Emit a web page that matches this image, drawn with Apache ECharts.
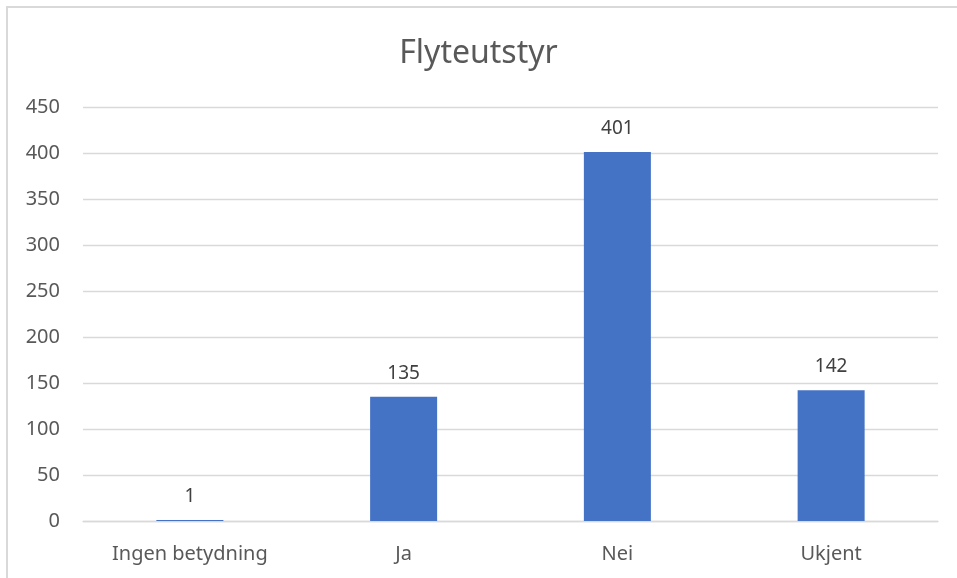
<!DOCTYPE html>
<html>
<head>
<meta charset="utf-8">
<script src="https://cdn.jsdelivr.net/npm/echarts@6/dist/echarts.min.js"></script>
<style>
  html, body { margin: 0; padding: 0; background: #fff; }
  #chart { width: 957px; height: 578px; }
</style>
</head>
<body>
<div id="chart"></div>
<script>
// Flyteutstyr: antall per kategori
const categories = ['Ingen betydning', 'Ja', 'Nei', 'Ukjent'];
const counts = [1, 135, 401, 142];
const yTicks = [0, 50, 100, 150, 200, 250, 300, 350, 400, 450];

const font = '"Noto Sans", "Open Sans", sans-serif';
const textColor = '#595959';
const lineColor = '#d9d9d9';

const chart = echarts.init(document.getElementById('chart'), null, { renderer: 'canvas' });

chart.setOption({
  animation: false,
  backgroundColor: '#ffffff',
  title: {
    text: 'Flyteutstyr',
    left: 'center',
    top: 33,
    textStyle: { fontFamily: font, fontSize: 32, fontWeight: 'normal', color: textColor }
  },
  graphic: [{
    type: 'rect',
    shape: { x: 7, y: 7, width: 980, height: 600 },
    style: { fill: 'none', stroke: lineColor, lineWidth: 2 },
    silent: true,
    z: 100
  }],
  grid: { left: 83, right: 19, top: 107, bottom: 57, containLabel: false },
  xAxis: {
    type: 'category',
    data: categories,
    axisLine: { show: true, lineStyle: { color: lineColor, width: 1.3 } },
    axisTick: { show: false },
    axisLabel: { fontFamily: font, fontSize: 20, color: textColor, margin: 23 }
  },
  yAxis: {
    type: 'value',
    min: yTicks[0],
    max: yTicks[yTicks.length - 1],
    interval: yTicks[1] - yTicks[0],
    axisLine: { show: false },
    axisTick: { show: false },
    splitLine: { lineStyle: { color: lineColor, width: 1.3 } },
    axisLabel: { fontFamily: font, fontSize: 20, color: textColor, margin: 23 }
  },
  series: [{
    type: 'bar',
    data: counts,
    barWidth: 67,
    itemStyle: { color: '#4472c4' },
    label: {
      show: true,
      position: 'top',
      distance: 14,
      fontFamily: font,
      fontSize: 19,
      color: '#404040'
    }
  }]
});
</script>
</body>
</html>
